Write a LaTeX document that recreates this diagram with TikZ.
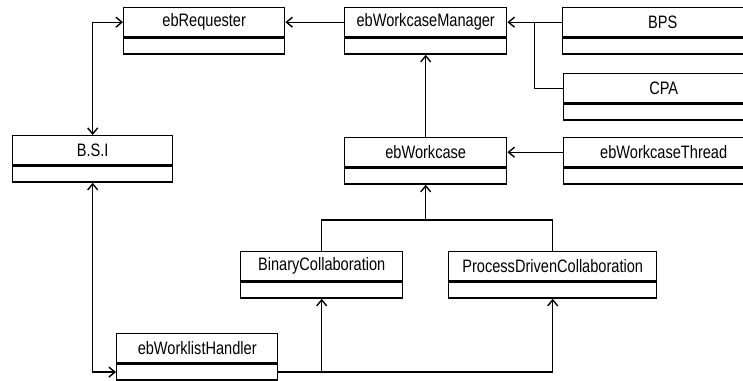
\documentclass[tikz,border=0pt]{standalone}
\usepackage{fontspec}
\newfontfamily\umlfont[FakeStretch=0.81]{Liberation Sans}
\usepackage{tikz}
\usetikzlibrary{calc,arrows.meta}

% one class: name, left x, top y, width, title
\newcommand{\umlclass}[5]{%
\node[classhead,minimum width=#4pt,anchor=north west] (#1) at (#2,#3) {#5};
\node[classbody,minimum width=#4pt,anchor=north] (#1-b) at (#1.south) {};
}

\begin{document}
\begin{tikzpicture}[x=1pt,y=-1pt,line width=1.4pt,
classhead/.style={draw,rectangle,inner sep=0pt,minimum height=29pt,
  font=\umlfont\fontsize{18}{21}\selectfont},
classbody/.style={draw,rectangle,inner sep=0pt,minimum height=16pt},
link/.style={-{Straight Barb[length=6pt,width=10pt]}},
twoway/.style={{Straight Barb[length=6pt,width=10pt]}-{Straight Barb[length=6pt,width=10pt]}}]
\useasboundingbox (0,0) rectangle (743,380);
\clip (0,0) rectangle (743,380);

\umlclass{req}{123}{7}{161}{ebRequester}
\umlclass{mgr}{344}{7}{162}{ebWorkcaseManager}
\umlclass{bps}{562}{7}{200}{BPS}
\umlclass{cpa}{563}{73}{200}{CPA}
\umlclass{thr}{563}{137}{200}{ebWorkcaseThread}
\umlclass{wc}{344}{137}{162}{ebWorkcase}
\umlclass{bsi}{12}{135}{160}{B.S.I}
\umlclass{bin}{240}{251}{162}{BinaryCollaboration}
\umlclass{pdc}{448}{251}{208}{ProcessDrivenCollaboration}
\umlclass{wlh}{116}{333}{161}{ebWorklistHandler}

% top row
\draw[link] (mgr.west) -- (req.east);
\draw[link] (bps.west) -- (mgr.east);
\draw (cpa.west) -| ($(mgr.east)!.5!(bps.west)$);
\draw[link] (wc.north) -- (mgr-b.south);
\draw[link] (thr.west) -- (wc.east);

% collaborations
\coordinate (join) at ($(wc-b.south)+(0,35)$);
\draw (bin.north) |- (join) -| (pdc.north);
\draw[link] (join) -- (wc-b.south);
\draw[link] (wlh-b.east) -| (pdc-b.south);
\draw[link] (wlh-b.east -| bin-b.south) -- (bin-b.south);

% B.S.I
\draw[twoway] (bsi.north) |- (req.west);
\draw[twoway] (bsi-b.south) |- (wlh-b.west);

\end{tikzpicture}
\end{document}
